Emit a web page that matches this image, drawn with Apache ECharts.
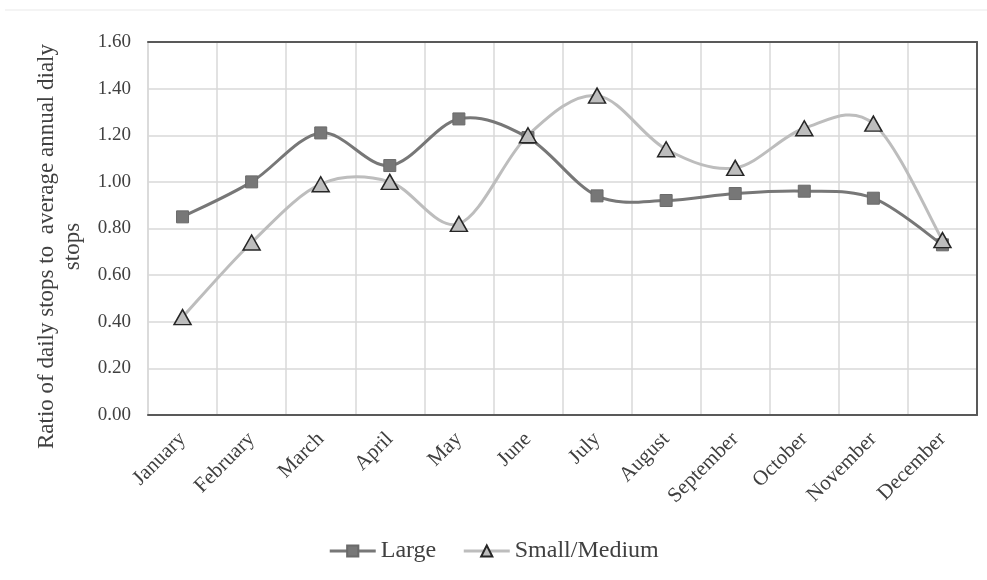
<!DOCTYPE html>
<html>
<head>
<meta charset="utf-8">
<script src="https://cdn.jsdelivr.net/npm/echarts@6/dist/echarts.min.js"></script>
<style>
  html, body { margin: 0; padding: 0; background: #fff; }
  #chart { width: 987px; height: 580px; }
</style>
</head>
<body>
<div id="chart"></div>
<script>
// Monthly ratio of daily stops to the annual daily average, by carrier size
const months = ['January', 'February', 'March', 'April', 'May', 'June',
  'July', 'August', 'September', 'October', 'November', 'December'];
const largeRatio = [0.85, 1.00, 1.21, 1.07, 1.27, 1.19, 0.94, 0.92, 0.95, 0.96, 0.93, 0.73];
const smallMediumRatio = [0.42, 0.74, 0.99, 1.00, 0.82, 1.20, 1.37, 1.14, 1.06, 1.23, 1.25, 0.75];
const yTicks = { min: 0, max: 1.6, interval: 0.2 };

const serif = 'Liberation Serif';
const largeLine = '#777777';
const smallLine = '#bdbdbd';

// Catmull-Rom style smoothed curve: each data item draws the segment to the
// next month, with control points taken from the neighbouring months.
function smoothSegment(values, color) {
  return function (params, api) {
    const i = params.dataIndex;
    if (i >= values.length - 1) return null;
    const pt = k => {
      const kk = Math.max(0, Math.min(values.length - 1, k));
      return api.coord([kk, values[kk]]);
    };
    const p0 = pt(i - 1), p1 = pt(i), p2 = pt(i + 1), p3 = pt(i + 2);
    return {
      type: 'bezierCurve',
      shape: {
        x1: p1[0], y1: p1[1],
        x2: p2[0], y2: p2[1],
        cpx1: p1[0] + (p2[0] - p0[0]) / 6, cpy1: p1[1] + (p2[1] - p0[1]) / 6,
        cpx2: p2[0] - (p3[0] - p1[0]) / 6, cpy2: p2[1] - (p3[1] - p1[1]) / 6
      },
      style: { stroke: color, lineWidth: 3, fill: null },
      silent: true
    };
  };
}

const chart = echarts.init(document.getElementById('chart'));

chart.setOption({
  backgroundColor: '#ffffff',
  animation: false,
  textStyle: { fontFamily: serif },
  grid: { left: 148, right: 10, top: 42, bottom: 165 },
  graphic: [{
    type: 'line',
    shape: { x1: 5, y1: 10, x2: 987, y2: 10 },
    style: { stroke: '#f0f0f0', lineWidth: 1.5 },
    silent: true
  }],
  legend: {
    bottom: 12,
    left: 'center',
    itemWidth: 46,
    itemHeight: 14,
    itemGap: 26,
    textStyle: { fontFamily: serif, fontSize: 24, color: '#404040' },
    data: [
      { name: 'Large', lineStyle: { color: largeLine, width: 3, opacity: 1 } },
      { name: 'Small/Medium', lineStyle: { color: smallLine, width: 3, opacity: 1 } }
    ]
  },
  xAxis: [
    {
      type: 'category',
      data: months,
      boundaryGap: true,
      axisLine: { show: true, lineStyle: { color: '#595959', width: 2 } },
      axisTick: { show: false },
      splitLine: { show: true, lineStyle: { color: '#d9d9d9', width: 1.5 } },
      axisLabel: {
        rotate: 45, interval: 0, margin: 21,
        fontFamily: serif, fontSize: 21, color: '#404040'
      }
    },
    {
      type: 'category',
      data: months,
      position: 'top',
      axisLine: { show: true, onZero: false, lineStyle: { color: '#595959', width: 2 } },
      axisTick: { show: false },
      axisLabel: { show: false },
      splitLine: { show: false }
    }
  ],
  yAxis: [
    {
      type: 'value',
      min: yTicks.min, max: yTicks.max, interval: yTicks.interval,
      name: 'Ratio of daily stops to  average annual dialy\nstops',
      nameLocation: 'middle',
      nameGap: 62,
      nameTextStyle: {
        fontFamily: serif, fontSize: 23, color: '#404040', lineHeight: 26,
        padding: [0, 36, 0, 0]
      },
      axisLine: { show: true, lineStyle: { color: '#d9d9d9', width: 1.5 } },
      axisTick: { show: false },
      splitLine: { show: true, lineStyle: { color: '#d9d9d9', width: 1.5 } },
      axisLabel: {
        margin: 17, fontFamily: serif, fontSize: 19, color: '#404040',
        formatter: v => v.toFixed(2)
      }
    },
    {
      type: 'value',
      min: yTicks.min, max: yTicks.max, interval: yTicks.interval,
      position: 'right',
      axisLine: { show: true, onZero: false, lineStyle: { color: '#595959', width: 2 } },
      axisTick: { show: false },
      axisLabel: { show: false },
      splitLine: { show: false }
    }
  ],
  series: [
    // markers (also supply the legend icons)
    {
      name: 'Large',
      type: 'line',
      data: largeRatio,
      symbol: 'rect',
      symbolSize: 12,
      lineStyle: { color: largeLine, width: 0 },
      itemStyle: { color: largeLine, borderColor: '#6a6a6a', borderWidth: 1 },
      z: 4
    },
    {
      name: 'Small/Medium',
      type: 'line',
      data: smallMediumRatio,
      symbol: 'triangle',
      symbolSize: [17, 15],
      lineStyle: { color: smallLine, width: 0 },
      itemStyle: { color: smallLine, borderColor: '#262626', borderWidth: 1.5 },
      z: 5
    },
    // smoothed connecting curves
    {
      name: 'Large',
      type: 'custom',
      data: largeRatio.map((v, i) => [i, v]),
      renderItem: smoothSegment(largeRatio, largeLine),
      z: 2
    },
    {
      name: 'Small/Medium',
      type: 'custom',
      data: smallMediumRatio.map((v, i) => [i, v]),
      renderItem: smoothSegment(smallMediumRatio, smallLine),
      z: 3
    }
  ]
});
</script>
</body>
</html>
